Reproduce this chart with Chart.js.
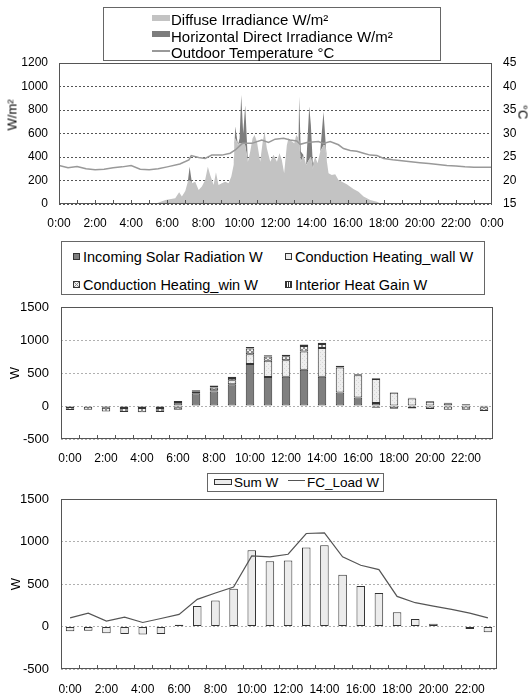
<!DOCTYPE html>
<html>
<head>
<meta charset="utf-8">
<script src="https://cdn.jsdelivr.net/npm/chart.js@4.4.1/dist/chart.umd.min.js"></script>
<style>
  body { margin: 0; background: #fff; }
  #wrap { position: relative; width: 532px; height: 695px; overflow: hidden; font-family: 'Liberation Sans', Arial, sans-serif; color: #000; }
  canvas { position: absolute; left: 0; }
  .box { position: absolute; border: 1px solid #666; background: #fff; box-sizing: border-box; }
  .txt { position: absolute; white-space: nowrap; line-height: 18px; }
  .sw { position: absolute; box-sizing: border-box; }
  .rt { position: absolute; white-space: nowrap; font-size: 13px; line-height: 15px; }
</style>
</head>
<body>
<div id="wrap">
  <canvas id="irrChart" width="532" height="232" style="top:0"></canvas>
  <canvas id="heatChart" width="532" height="233" style="top:232px"></canvas>
  <canvas id="loadChart" width="532" height="230" style="top:465px"></canvas>

  <!-- top legend -->
  <div class="box" style="left:103px; top:7px; width:338px; height:54px"></div>
  <div class="sw" style="left:152px; top:15px; width:18px; height:6px; background:#c3c3c3"></div>
  <div class="txt" style="left:171px; top:11px; font-size:15px">Diffuse Irradiance W/m²</div>
  <div class="sw" style="left:152px; top:31px; width:18px; height:6px; background:#7d7d7d"></div>
  <div class="txt" style="left:171px; top:27.5px; font-size:15px">Horizontal Direct Irradiance W/m²</div>
  <div class="sw" style="left:152px; top:50px; width:18px; height:1.5px; background:#999"></div>
  <div class="txt" style="left:171px; top:44px; font-size:15px">Outdoor Temperature °C</div>
  <div class="rt" style="left:12px; top:115px; transform:translate(-50%,-50%) rotate(-90deg)">W/m²</div>
  <div class="rt" style="left:523px; top:112px; transform:translate(-50%,-50%) rotate(90deg)">°C</div>

  <!-- middle legend -->
  <div class="box" style="left:61px; top:241px; width:424px; height:54px"></div>
  <div class="sw" style="left:73px; top:253px; width:7px; height:7px; background:#7f7f7f; border:1px solid #333"></div>
  <div class="txt" style="left:83px; top:247.5px; font-size:14.5px">Incoming Solar Radiation W</div>
  <div class="sw" style="left:285px; top:253px; width:7px; height:7px; background:#ececec; border:1px solid #333"></div>
  <div class="txt" style="left:295px; top:247.5px; font-size:14.5px">Conduction Heating_wall W</div>
  <div class="sw" style="left:73px; top:281px; width:7px; height:7px; border:1px solid #333; background-color:#f0f0f0; background-image:repeating-linear-gradient(45deg,#888 0 1px,transparent 1px 3px),repeating-linear-gradient(-45deg,#888 0 1px,transparent 1px 3px)"></div>
  <div class="txt" style="left:83px; top:276px; font-size:14.5px">Conduction Heating_win W</div>
  <div class="sw" style="left:285px; top:281px; width:7px; height:7px; border:1px solid #333; background:repeating-linear-gradient(90deg,#333 0 1px,#fff 1px 2px)"></div>
  <div class="txt" style="left:295px; top:276px; font-size:14.5px">Interior Heat Gain W</div>

  <!-- bottom legend -->
  <div class="box" style="left:207px; top:473px; width:177px; height:19px"></div>
  <div class="sw" style="left:214px; top:479px; width:18px; height:6px; background:#ececec; border:1px solid #333"></div>
  <div class="txt" style="left:234px; top:473.5px; font-size:13.5px">Sum W</div>
  <div class="sw" style="left:288px; top:480px; width:17px; height:1.2px; background:#555"></div>
  <div class="txt" style="left:307px; top:473.5px; font-size:13.5px">FC_Load W</div>
</div>

<script>
// ---- top chart: irradiance (W/m2) and outdoor temperature (C), time in hours
const irrTime = [0, 5.3, 5.9, 6.44, 6.66, 6.81, 7.0, 7.14, 7.24, 7.37,
  7.55, 7.74, 7.92, 8.1, 8.25, 8.38, 8.57, 8.7, 8.84, 9.03,
  9.21, 9.4, 9.55, 9.68, 9.77, 9.92, 10.01, 10.1, 10.21, 10.32,
  10.47, 10.6, 10.73, 10.84, 10.97, 11.15, 11.28, 11.39, 11.52, 11.71,
  11.89, 12.08, 12.22, 12.35, 12.48, 12.63, 12.72, 12.91, 13.04, 13.15,
  13.28, 13.31, 13.4, 13.55, 13.7, 13.87, 13.96, 14.07, 14.2, 14.33,
  14.48, 14.66, 14.75, 14.85, 14.94, 15.12, 15.31, 15.49, 15.68, 15.95,
  16.32, 16.6, 16.88, 17.25, 17.62, 17.89, 24];
const diffuse = [0, 0, 34, 48, 100, 63, 111, 190, 200, 176,
  190, 119, 148, 204, 318, 247, 162, 270, 162, 176,
  190, 176, 233, 332, 560, 502, 520, 517, 520, 500,
  360, 446, 559, 587, 531, 360, 517, 616, 474, 360,
  420, 360, 431, 375, 261, 502, 559, 531, 517, 587,
  560, 540, 360, 417, 332, 380, 400, 300, 403, 346,
  446, 500, 500, 360, 261, 247, 253, 204, 190, 168,
  128, 105, 63, 34, 20, 0, 0];
const direct = [0, 0, 0, 0, 0, 0, 0, 0, 118, 0,
  0, 0, 0, 0, 0, 0, 0, 0, 0, 0,
  0, 0, 0, 0, 100, 0, 40, 410, 80, 340,
  0, 0, 0, 0, 0, 0, 0, 0, 0, 0,
  0, 0, 0, 0, 0, 0, 0, 0, 0, 0,
  0, 374, 86, 0, 0, 449, 273, 32, 0, 0,
  0, 286, 87, 0, 0, 0, 0, 0, 0, 0,
  0, 0, 0, 0, 0, 0, 0];
const tempTime = [0, 0.5, 1, 1.5, 2, 2.5, 3, 3.5, 4, 4.5,
  5, 5.5, 6, 6.7, 7.2, 7.33, 7.74, 8.1, 8.47, 9.03,
  9.49, 9.77, 10.17, 10.69, 11.24, 11.61, 11.98, 12.45, 12.81, 13.18,
  13.37, 13.74, 14.38, 14.66, 15.03, 15.49, 15.77, 16.14, 16.51, 16.88,
  17.25, 17.62, 18, 18.5, 19, 19.5, 20, 20.5, 21, 21.5,
  22, 22.5, 23, 23.5, 24];
const outdoorTemp = [23.2, 22.7, 23.0, 22.5, 22.3, 22.4, 22.7, 22.9, 23.2, 22.4,
  22.3, 22.5, 22.9, 23.5, 24.4, 25.3, 24.9, 24.7, 25.4, 25.4,
  25.8, 26.5, 27.9, 27.9, 28.6, 28.1, 28.8, 29.0, 28.6, 28.4,
  27.7, 28.1, 28.3, 27.9, 28.3, 27.6, 26.8, 26.4, 26.2, 25.8,
  25.4, 25.3, 24.7, 24.4, 24.2, 24.0, 23.8, 23.6, 23.4, 23.2,
  23.1, 22.9, 22.8, 22.8, 22.8];
const dayTickLabels = ["0:00", "2:00", "4:00", "6:00", "8:00", "10:00", "12:00",
  "14:00", "16:00", "18:00", "20:00", "22:00", "0:00"];

// ---- hourly charts
const hourLabels = ["0:00", "1:00", "2:00", "3:00", "4:00", "5:00", "6:00", "7:00",
  "8:00", "9:00", "10:00", "11:00", "12:00", "13:00", "14:00", "15:00",
  "16:00", "17:00", "18:00", "19:00", "20:00", "21:00", "22:00", "23:00"];
const solarGain = [0, 0, 0, 0, 0, 0, 60, 195, 220, 330, 635, 440, 445, 550, 445, 205, 130, 45, 0, 0, 0, 0, 0, 0];
const wallGain = [-15, -10, -25, -30, -30, -30, -20, 0, 20, 60, 150, 245, 250, 275, 435, 380, 335, 365, 200, 115, 65, 40, 20, -20];
const winGain = [-45, -45, -57, -60, -65, -62, -35, 30, 40, 35, 85, 65, 60, 85, 60, 5, -5, -25, -40, -38, -44, -55, -58, -57];
const interiorGain = [8, 8, 8, 8, 8, 8, 15, 15, 30, 20, 25, 20, 20, 20, 20, 20, 15, 10, 10, 10, 10, 10, 10, 10];
const sumLoad = [-55, -50, -79, -87, -94, -87, 20, 240, 307, 445, 898, 768, 776, 929, 957, 610, 476, 394, 169, 87, 31, -4, -28, -67];
const fcLoad = [102, 157, 63, 110, 47, 94, 142, 319, 394, 465, 831, 819, 850, 1094, 1102, 819, 720, 669, 354, 280, 240, 201, 157, 102];

Chart.defaults.font.family = "'Liberation Sans', Arial, sans-serif";
Chart.defaults.color = "#000";

// plot frame + small tick marks pointing up from the bottom axis
const framePlugin = {
  id: "frame",
  afterDraw(chart, args, opts) {
    const { ctx, chartArea: a } = chart;
    const x = chart.scales.x;
    ctx.save();
    ctx.strokeStyle = "#555";
    ctx.lineWidth = 1;
    ctx.beginPath();
    (opts.marks || []).forEach((v) => {
      const px = Math.round(x.getPixelForValue(v)) + 0.5;
      ctx.moveTo(px, a.bottom);
      ctx.lineTo(px, a.bottom - 4);
    });
    ctx.stroke();
    ctx.strokeRect(Math.round(a.left) + 0.5, Math.round(a.top) + 0.5,
      Math.round(a.right - a.left) - 1, Math.round(a.bottom - a.top) - 1);
    ctx.restore();
  },
};

function makePattern(w, h, draw) {
  const c = document.createElement("canvas");
  c.width = w;
  c.height = h;
  const g = c.getContext("2d");
  draw(g);
  return g.createPattern(c, "repeat");
}

const wallPattern = makePattern(4, 4, (g) => {
  g.fillStyle = "#eeeeee";
  g.fillRect(0, 0, 4, 4);
  g.fillStyle = "#d6d6d6";
  g.fillRect(0, 0, 1, 1);
  g.fillRect(2, 2, 1, 1);
});
const winPattern = makePattern(4, 4, (g) => {
  g.fillStyle = "#f0f0f0";
  g.fillRect(0, 0, 4, 4);
  g.fillStyle = "#8c8c8c";
  for (let i = 0; i < 4; i++) {
    g.fillRect(i, i, 1, 1);
    g.fillRect(3 - i, i, 1, 1);
  }
});
const interiorPattern = makePattern(2, 1, (g) => {
  g.fillStyle = "#fff";
  g.fillRect(0, 0, 2, 1);
  g.fillStyle = "#333";
  g.fillRect(0, 0, 1, 1);
});

const hourMarks = Array.from({ length: 23 }, (_, i) => i + 1);
const catMarks = Array.from({ length: 23 }, (_, i) => i + 0.5);
const plainNum = (v) => String(v);

// ---------- chart 1
new Chart(document.getElementById("irrChart"), {
  type: "line",
  data: {
    datasets: [
      {
        label: "Outdoor Temperature °C",
        data: tempTime.map((t, i) => ({ x: t, y: outdoorTemp[i] })),
        yAxisID: "y2",
        borderColor: "#999",
        borderWidth: 1.5,
        pointRadius: 0,
        fill: false,
      },
      {
        label: "Diffuse Irradiance W/m²",
        data: irrTime.map((t, i) => ({ x: t, y: diffuse[i] })),
        yAxisID: "y",
        borderWidth: 0,
        pointRadius: 0,
        backgroundColor: "#c3c3c3",
        fill: "origin",
      },
      {
        label: "Horizontal Direct Irradiance W/m²",
        data: irrTime.map((t, i) => ({ x: t, y: direct[i] })),
        yAxisID: "y",
        borderWidth: 0,
        pointRadius: 0,
        backgroundColor: "#7d7d7d",
        fill: "-1",
      },
    ],
  },
  options: {
    responsive: false,
    animation: false,
    layout: { padding: { top: 63, left: 0, right: 0 } },
    plugins: {
      legend: { display: false },
      tooltip: { enabled: false },
      frame: { marks: hourMarks },
    },
    scales: {
      x: {
        type: "linear",
        min: 0,
        max: 24,
        grid: { display: false, drawTicks: false },
        border: { display: false },
        ticks: {
          stepSize: 2,
          autoSkip: false,
          maxRotation: 0,
          padding: 12,
          font: { size: 12 },
          callback: (v) => dayTickLabels[v / 2],
        },
        afterFit: (s) => { s.height = 28; },
      },
      y: {
        stacked: true,
        min: 0,
        max: 1200,
        ticks: { stepSize: 200, padding: 11, font: { size: 12 }, callback: plainNum },
        grid: { color: "#555", drawTicks: false },
        border: { display: false, dash: [2, 2] },
        afterFit: (s) => { s.width = 59; },
      },
      y2: {
        position: "right",
        min: 15,
        max: 45,
        ticks: { stepSize: 5, padding: 11, font: { size: 12 }, callback: plainNum },
        grid: { drawOnChartArea: false, drawTicks: false },
        border: { display: false },
        afterFit: (s) => { s.width = 40; },
      },
    },
  },
  plugins: [framePlugin],
});

// ---------- chart 2
const heatSets = [
  { label: "Incoming Solar Radiation W", data: solarGain, backgroundColor: "#7f7f7f" },
  { label: "Conduction Heating_wall W", data: wallGain, backgroundColor: wallPattern },
  { label: "Conduction Heating_win W", data: winGain, backgroundColor: winPattern },
  { label: "Interior Heat Gain W", data: interiorGain, backgroundColor: interiorPattern },
].map((d) => Object.assign(d, {
  borderColor: "#333",
  borderWidth: 1,
  borderSkipped: false,
  barPercentage: 0.47,
  categoryPercentage: 1,
}));

new Chart(document.getElementById("heatChart"), {
  type: "bar",
  data: { labels: hourLabels, datasets: heatSets },
  options: {
    responsive: false,
    animation: false,
    layout: { padding: { top: 75, left: 0, right: 39 } },
    plugins: {
      legend: { display: false },
      tooltip: { enabled: false },
      frame: { marks: catMarks },
    },
    scales: {
      x: {
        stacked: true,
        grid: { display: false, drawTicks: false },
        border: { display: false },
        ticks: {
          autoSkip: false,
          maxRotation: 0,
          padding: 12,
          font: { size: 12 },
          callback: (v, i) => (i % 2 === 0 ? hourLabels[i] : ""),
        },
        afterFit: (s) => { s.height = 26; },
      },
      y: {
        stacked: true,
        min: -500,
        max: 1500,
        ticks: { stepSize: 500, padding: 12, font: { size: 13 }, callback: plainNum },
        grid: { color: "#b0b0b0", drawTicks: false },
        border: { display: false, dash: [2, 2] },
        title: { display: true, text: "W", font: { size: 13 }, padding: { top: 7.5, bottom: 0 } },
        afterFit: (s) => { s.width = 61; },
      },
    },
  },
  plugins: [framePlugin],
});

// ---------- chart 3
new Chart(document.getElementById("loadChart"), {
  type: "bar",
  data: {
    labels: hourLabels,
    datasets: [
      {
        type: "line",
        label: "FC_Load W",
        data: fcLoad,
        borderColor: "#555",
        borderWidth: 1.2,
        pointRadius: 0,
        tension: 0,
        fill: false,
      },
      {
        label: "Sum W",
        data: sumLoad,
        backgroundColor: "#ececec",
        borderColor: "#333",
        borderWidth: 1,
        borderSkipped: false,
        barPercentage: 0.47,
        categoryPercentage: 1,
      },
    ],
  },
  options: {
    responsive: false,
    animation: false,
    layout: { padding: { top: 34, left: 0, right: 35 } },
    plugins: {
      legend: { display: false },
      tooltip: { enabled: false },
      frame: { marks: catMarks },
    },
    scales: {
      x: {
        grid: { display: false, drawTicks: false },
        border: { display: false },
        ticks: {
          autoSkip: false,
          maxRotation: 0,
          padding: 13,
          font: { size: 12 },
          callback: (v, i) => (i % 2 === 0 ? hourLabels[i] : ""),
        },
        afterFit: (s) => { s.height = 26; },
      },
      y: {
        min: -500,
        max: 1500,
        ticks: { stepSize: 500, padding: 12, font: { size: 13 }, callback: plainNum },
        grid: { color: "#b0b0b0", drawTicks: false },
        border: { display: false, dash: [2, 2] },
        title: { display: true, text: "W", font: { size: 13 }, padding: { top: 9, bottom: 0 } },
        afterFit: (s) => { s.width = 61; },
      },
    },
  },
  plugins: [framePlugin],
});
</script>
</body>
</html>
